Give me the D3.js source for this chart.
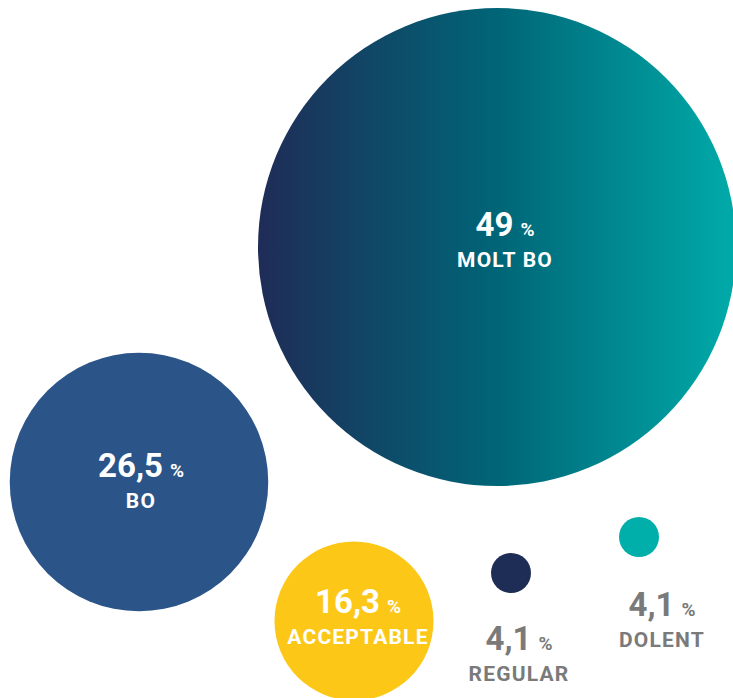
<!DOCTYPE html>
<html>
<head>
<meta charset="utf-8">
<script src="https://cdn.jsdelivr.net/npm/d3@7"></script>
<style>
  html, body { margin: 0; padding: 0; background: #ffffff; }
  svg { display: block; }
  text { font-family: Roboto, "Noto Sans", sans-serif; font-weight: 700; }
</style>
</head>
<body>
<svg id="chart" width="733" height="698"></svg>
<script>
// ---- data ----
const categories = ["MOLT BO", "BO", "ACCEPTABLE", "REGULAR", "DOLENT"];
const values = [49, 26.5, 16.3, 4.1, 4.1];
const valueLabels = ["49", "26,5", "16,3", "4,1", "4,1"];

// ---- layout (bubble centres and label anchors) ----
const centersX = [497, 139, 354, 511, 639];
const centersY = [247, 482, 621, 573, 537];
const labelX = [505, 141, 358, 519, 662];
const labelY = [236, 477, 613, 650, 616];
const fills = ["url(#grad)", "#2b5489", "#fdc718", "#1e2d55", "#00aeaa"];
const textFill = ["#ffffff", "#ffffff", "#ffffff", "#7a7a7a", "#7a7a7a"];

const W = 733, H = 698;
const svg = d3.select("#chart");

const r = d3.scaleLinear().domain([0, 49]).range([0, 239]);

const defs = svg.append("defs");
const grad = defs.append("linearGradient").attr("id", "grad")
  .attr("x1", "0%").attr("x2", "100%").attr("y1", "0%").attr("y2", "0%");
grad.append("stop").attr("offset", "0%").attr("stop-color", "#1f2c57");
grad.append("stop").attr("offset", "50%").attr("stop-color", "#006577");
grad.append("stop").attr("offset", "100%").attr("stop-color", "#00aba9");

const data = categories.map((c, i) => ({
  cat: c, v: values[i], vl: valueLabels[i],
  cx: centersX[i], cy: centersY[i], lx: labelX[i], ly: labelY[i],
  fill: fills[i], tf: textFill[i]
}));

svg.selectAll("circle.b").data(data).join("circle")
  .attr("class", "b")
  .attr("cx", d => d.cx).attr("cy", d => d.cy)
  .attr("r", d => r(d.v))
  .attr("fill", d => d.fill);

const lab = svg.selectAll("g.lab").data(data).join("g").attr("class", "lab");

const num = lab.append("text")
  .attr("x", d => d.lx).attr("y", d => d.ly)
  .attr("text-anchor", "middle")
  .attr("fill", d => d.tf);
num.append("tspan").attr("font-size", 33).text(d => d.vl);
num.append("tspan").attr("font-size", 19).attr("dx", 7).text("%");

lab.append("text")
  .attr("x", d => d.lx).attr("y", d => d.ly + 31)
  .attr("text-anchor", "middle")
  .attr("font-size", 21)
  .attr("letter-spacing", 1.2)
  .attr("fill", d => d.tf)
  .text(d => d.cat);
</script>
</body>
</html>
